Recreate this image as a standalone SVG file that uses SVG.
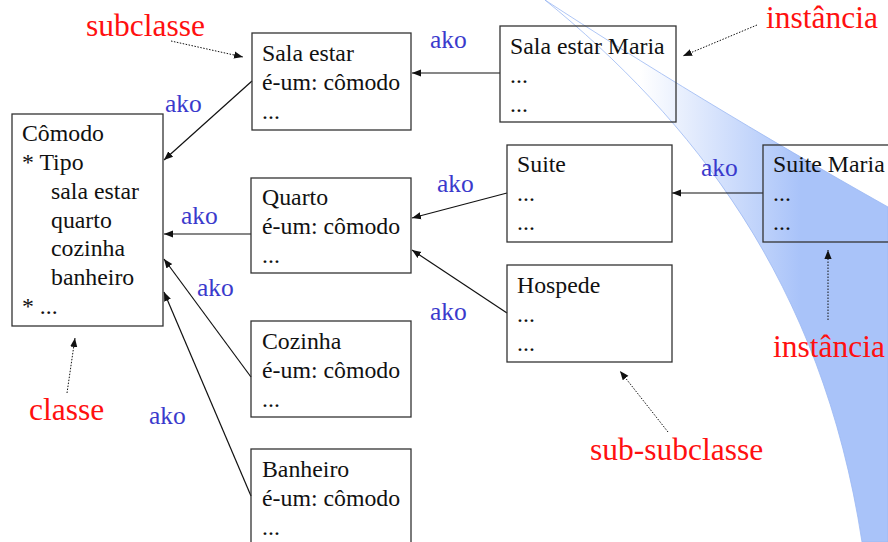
<svg xmlns="http://www.w3.org/2000/svg" width="888" height="542" viewBox="0 0 888 542">
<style>
.box{fill:none;stroke:#333;stroke-width:1.3}
text{font-family:'Liberation Serif','Times New Roman',serif}
.t{font-size:23.8px;fill:#111}
.red{font-size:31.5px;fill:#ff1010}
.ako{font-size:25.5px;fill:#3a3acc}
.ar{stroke:#111;stroke-width:1.2;fill:none;marker-end:url(#ah)}
.dt{stroke:#111;stroke-width:1;fill:none;stroke-dasharray:1.5 1.5;marker-end:url(#ah)}
</style>
<defs>
<marker id="ah" viewBox="0 0 10 10" refX="10" refY="5" markerWidth="9" markerHeight="9" markerUnits="userSpaceOnUse" orient="auto">
<path d="M0,1 L10,5 L0,9 Z" fill="#111"/>
</marker>
<linearGradient id="bg" x1="640" y1="0" x2="800" y2="0" gradientUnits="userSpaceOnUse">
<stop offset="0" stop-color="#ffffff"/>
<stop offset="1" stop-color="#a9c3f9"/>
</linearGradient>
</defs>
<rect width="888" height="542" fill="#fff"/>
<g id="band">
<path d="M545,0 C690,118 822,280 862,542 L888,542 L888,207 C760,135 640,62 545,0 Z" fill="url(#bg)" stroke="#9ab8f2" stroke-width="0.8"/>
</g>
<g id="connectors">
<line class="ar" x1="252" y1="81" x2="164" y2="160"/>
<line class="ar" x1="251" y1="234" x2="164" y2="234"/>
<line class="ar" x1="251" y1="377" x2="164" y2="259"/>
<line class="ar" x1="251" y1="496" x2="164" y2="292"/>
<line class="ar" x1="500" y1="73" x2="412" y2="73"/>
<line class="ar" x1="507" y1="193" x2="412" y2="218"/>
<line class="ar" x1="507" y1="313" x2="412" y2="250"/>
<line class="ar" x1="763" y1="193" x2="672" y2="193"/>
<line class="dt" x1="171" y1="41" x2="243" y2="57"/>
<line class="dt" x1="757" y1="25" x2="683" y2="56"/>
<line class="dt" x1="828" y1="320" x2="828" y2="250"/>
<line class="dt" x1="67" y1="393" x2="75" y2="338"/>
<line class="dt" x1="668" y1="432" x2="620" y2="371"/>
</g>
<g id="comodo">
<rect class="box" x="12" y="114" width="151" height="212"/>
<text class="t" x="22" y="141">Cômodo</text>
<text class="t" x="22" y="170">* Tipo</text>
<text class="t" x="51" y="199">sala estar</text>
<text class="t" x="51" y="228">quarto</text>
<text class="t" x="51" y="256">cozinha</text>
<text class="t" x="51" y="285">banheiro</text>
<text class="t" x="22" y="314">* ...</text>
</g>
<g id="sala-estar">
<rect class="box" x="252" y="33" width="159" height="97"/>
<text class="t" x="262" y="61">Sala estar</text>
<text class="t" x="262" y="90">é-um: cômodo</text>
<text class="t" x="262" y="119">...</text>
</g>
<g id="sala-estar-maria">
<rect class="box" x="500" y="26" width="176" height="96"/>
<text class="t" x="510" y="54">Sala estar Maria</text>
<text class="t" x="510" y="83">...</text>
<text class="t" x="510" y="112">...</text>
</g>
<g id="quarto">
<rect class="box" x="251" y="178" width="160" height="95"/>
<text class="t" x="262" y="205">Quarto</text>
<text class="t" x="262" y="234">é-um: cômodo</text>
<text class="t" x="262" y="263">...</text>
</g>
<g id="cozinha">
<rect class="box" x="251" y="321" width="160" height="96"/>
<text class="t" x="262" y="349">Cozinha</text>
<text class="t" x="262" y="378">é-um: cômodo</text>
<text class="t" x="262" y="407">...</text>
</g>
<g id="banheiro">
<rect class="box" x="251" y="449" width="160" height="100"/>
<text class="t" x="262" y="477">Banheiro</text>
<text class="t" x="262" y="506">é-um: cômodo</text>
<text class="t" x="262" y="535">...</text>
</g>
<g id="suite">
<rect class="box" x="507" y="145" width="165" height="97"/>
<text class="t" x="517" y="172">Suite</text>
<text class="t" x="517" y="201">...</text>
<text class="t" x="517" y="230">...</text>
</g>
<g id="hospede">
<rect class="box" x="507" y="265" width="165" height="97"/>
<text class="t" x="517" y="293">Hospede</text>
<text class="t" x="517" y="322">...</text>
<text class="t" x="517" y="351">...</text>
</g>
<g id="suite-maria">
<rect class="box" x="763" y="145" width="130" height="97"/>
<text class="t" x="773" y="172">Suite Maria</text>
<text class="t" x="773" y="201">...</text>
<text class="t" x="773" y="230">...</text>
</g>
<g id="labels">
<text class="red" x="86" y="36">subclasse</text>
<text class="red" x="766" y="28">instância</text>
<text class="red" x="773" y="357">instância</text>
<text class="red" x="29" y="420">classe</text>
<text class="red" x="590" y="460">sub-subclasse</text>
<text class="ako" x="165" y="112">ako</text>
<text class="ako" x="181" y="224">ako</text>
<text class="ako" x="197" y="296">ako</text>
<text class="ako" x="149" y="424">ako</text>
<text class="ako" x="430" y="48">ako</text>
<text class="ako" x="437" y="192">ako</text>
<text class="ako" x="430" y="320">ako</text>
<text class="ako" x="701" y="176">ako</text>
</g>
</svg>
